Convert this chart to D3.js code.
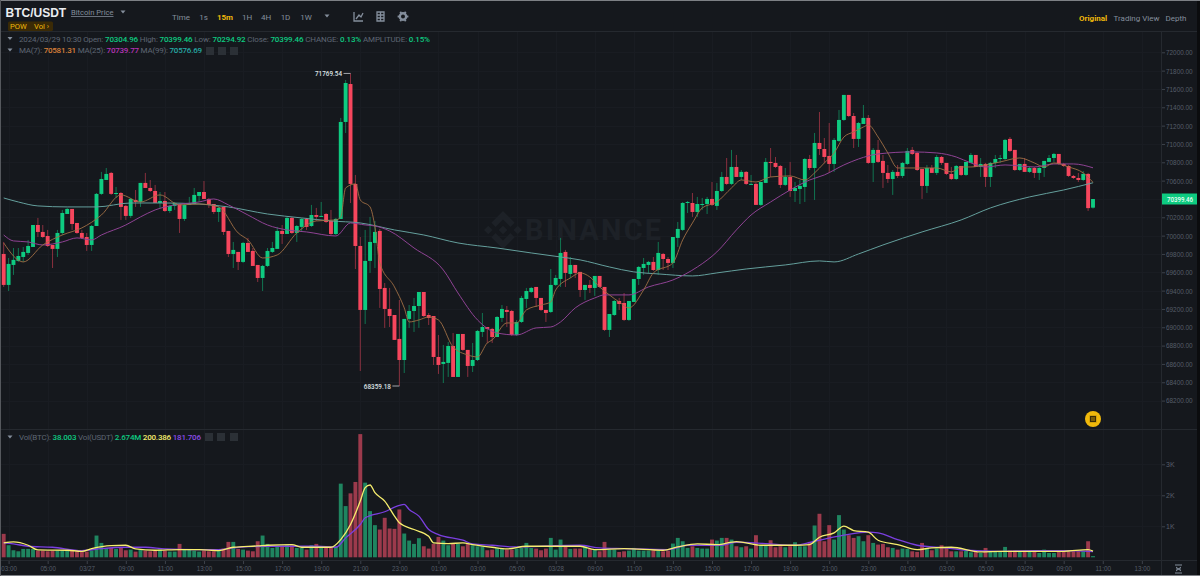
<!DOCTYPE html>
<html>
<head>
<meta charset="utf-8">
<script src="https://cdn.jsdelivr.net/npm/d3@7"></script>
<style>
  html, body { margin: 0; padding: 0; background: #0b0c0e; }
  svg { display: block; font-family: Roboto, "Noto Sans", sans-serif; }
  .axis text { fill: #565d69; font-size: 7px; }
  .axis line { stroke: #3d424b; }
  .axis path { display: none; }
</style>
</head>
<body>
<div id="chart"></div>
<script>
const opens = [69800,69462,69680,69724,69767,69811,69876,70116,70040,69996,69898,69855,70029,70236,70291,70138,70029,69985,69898,70105,70455,70607,70684,70455,70465,70324,70215,70389,70367,70575,70520,70487,70356,70378,70269,70324,70345,70182,70335,70345,70433,70476,70400,70345,70258,70313,70051,69800,69822,69713,69920,69833,69680,69538,69669,69822,69855,70051,70018,70193,70029,70095,70182,70105,70225,70204,70236,70160,70018,70182,71240,71654,70564,69887,69189,69724,69920,70051,69429,69200,69134,68873,68643,69091,69178,69232,69385,69134,69123,68676,68600,68611,68796,68458,68927,68753,68578,68643,68949,69003,68982,68894,69102,69189,69178,68916,69058,69309,69385,69440,69320,69189,69167,69462,69527,69822,69582,69680,69604,69407,69462,69429,69560,69440,68971,69134,69287,69265,69080,69276,69527,69647,69680,69713,69625,69800,69745,69702,69975,70062,70356,70356,70258,70335,70345,70400,70324,70487,70640,70564,70749,70640,70695,70553,70564,70335,70575,70804,70793,70760,70553,70640,70487,70509,70531,70836,70738,71011,70945,70869,70782,71033,71262,71535,71305,71055,71218,71284,70793,70935,70815,70684,70618,70695,70651,70782,70935,70902,70727,70542,70738,70684,70858,70793,70673,70618,70760,70662,70793,70880,70749,70782,70640,70793,70836,70836,71055,70935,70716,70782,70695,70738,70684,70738,70804,70847,70891,70782,70760,70651,70629,70607,70673,70304.96];
const highs = [69931,69756,69865,69865,69876,69953,70116,70193,70116,70062,69898,70062,70280,70302,70291,70138,70062,70029,70116,70465,70695,70738,70695,70531,70476,70335,70411,70498,70575,70684,70607,70553,70476,70476,70335,70367,70345,70345,70422,70520,70476,70596,70411,70345,70324,70313,70051,69931,69822,69931,69975,69865,69680,69680,69865,69931,70095,70116,70204,70204,70116,70193,70193,70335,70302,70367,70247,70280,70193,71284,71698,71769.54,70662,69985,70062,70204,70160,70073,69483,69429,69134,69298,69091,69243,69320,69385,69385,69156,69123,68916,68807,68840,68938,68927,68927,68753,68829,68971,69156,69003,68993,69123,69243,69232,69189,69080,69342,69429,69440,69440,69320,69189,69636,69571,69975,69844,69767,69680,69604,69462,69516,69560,69560,69440,69145,69298,69320,69374,69287,69527,69669,69756,69724,69767,69931,69811,69767,69985,70149,70367,70378,70465,70422,70411,70422,70585,70575,70695,70847,70935,70880,70716,70705,70662,70575,70585,70847,70956,70858,70771,70738,70804,70585,70607,70847,70880,71120,71349,71065,71229,71065,71371,71535,71535,71338,71240,71425,71316,70956,71044,70880,70771,70716,70771,70804,70956,70967,70913,70727,70771,70771,70880,70869,70793,70749,70771,70760,70804,70902,70880,70847,70793,70804,70880,70880,71055,71076,70935,70782,70847,70749,70749,70749,70815,70880,70902,70891,70793,70771,70662,70684,70705,70684,70399.46];
const lows = [69440,69396,69571,69713,69713,69789,69876,69985,69975,69876,69647,69767,70007,70236,70062,70018,69964,69833,69833,70105,70444,70607,70444,70411,70171,70171,70193,70313,70313,70520,70476,70356,70302,70258,70247,70280,70029,70160,70335,70345,70367,70400,70302,70236,70149,70007,69767,69647,69625,69702,69822,69669,69494,69396,69658,69811,69855,69909,70018,70018,69931,70040,70062,70095,70160,70204,70138,70007,70007,70182,71120,70356,69636,68523,69036,69593,69647,69211,68993,69003,68862,68359.18,68501,68993,68949,68993,69112,69025,68589,68491,68392,68458,68458,68458,68742,68458,68512,68632,68894,68829,68829,68894,69058,69003,68905,68905,69047,69211,69374,69222,69178,69058,69156,69451,69440,69440,69538,69538,69331,69298,69374,69342,69429,68960,68894,69123,69189,69069,69069,69276,69462,69571,69593,69614,69571,69625,69625,69647,69876,70051,70247,70204,70204,70280,70236,70324,70280,70476,70553,70553,70640,70607,70553,70553,70335,70324,70575,70640,70738,70520,70542,70422,70367,70345,70367,70716,70389,70880,70793,70684,70695,71022,71251,71294,70956,70967,71218,70782,70585,70793,70520,70575,70444,70629,70629,70771,70880,70705,70400,70465,70684,70662,70771,70662,70607,70607,70651,70651,70793,70749,70640,70531,70531,70738,70793,70825,70913,70705,70705,70695,70684,70629,70607,70640,70804,70804,70771,70749,70640,70618,70585,70596,70269,70294.92];
const closes = [69462,69691,69735,69778,69822,69887,70116,70040,69985,69887,69855,70029,70247,70291,70127,70029,69975,69898,70105,70455,70618,70673,70455,70465,70313,70215,70400,70367,70575,70520,70487,70356,70378,70269,70324,70356,70182,70335,70345,70444,70476,70400,70335,70258,70302,70040,69800,69844,69713,69920,69822,69669,69538,69669,69833,69865,70051,70018,70193,70029,70105,70182,70095,70225,70204,70215,70149,70018,70182,71240,71665,70564,69887,69189,69724,69931,70040,69418,69200,69123,68862,68643,69091,69178,69232,69385,69123,69102,68676,68589,68622,68796,68458,68927,68753,68578,68643,68960,69003,68982,68894,69112,69200,69167,68916,69058,69320,69396,69429,69320,69189,69156,69462,69538,69811,69593,69680,69593,69407,69462,69429,69560,69440,68971,69145,69287,69254,69080,69287,69527,69658,69691,69713,69625,69811,69745,69702,69985,70073,70356,70367,70258,70345,70345,70400,70335,70487,70640,70564,70749,70640,70695,70564,70564,70335,70585,70804,70793,70749,70553,70640,70487,70520,70542,70836,70738,71011,70945,70858,70782,71044,71262,71535,71305,71055,71229,71284,70793,70935,70804,70684,70618,70695,70651,70793,70924,70891,70716,70542,70738,70684,70858,70793,70673,70618,70760,70662,70804,70880,70749,70782,70640,70793,70836,70847,71044,70924,70716,70782,70695,70738,70684,70738,70815,70847,70891,70782,70760,70651,70629,70607,70673,70300,70399.46];
const volumes = [756,389,227,194,270,270,270,216,216,194,216,216,216,216,216,194,184,184,216,702,464,302,302,270,324,227,248,184,248,216,194,216,248,216,184,184,432,248,248,216,184,216,194,194,216,281,497,497,270,248,216,194,518,702,432,302,356,356,389,389,302,302,248,389,432,324,324,324,356,2376,1652,2063,2430,3974,2408,1490,1037,896,1274,929,918,1544,767,540,432,616,356,281,432,659,540,389,432,432,356,432,389,356,346,227,248,302,281,248,248,281,302,464,302,281,227,281,626,248,572,356,270,281,281,356,270,248,194,497,248,248,173,194,216,302,216,216,216,227,216,194,216,443,626,518,302,356,302,281,281,572,540,626,626,572,356,324,356,281,713,389,389,551,324,356,324,356,486,356,356,497,1026,1404,518,1037,572,1361,896,713,626,680,518,713,464,410,432,324,302,248,281,270,194,173,464,281,227,281,389,324,194,194,194,216,162,173,140,302,194,173,173,335,216,216,194,216,194,173,140,248,140,140,173,194,173,194,194,194,518,38.003];

// moving averages at these candle numbers
const ma7Index = [0,4,8,12,16,20,24,28,32,36,40,44,48,50,53,56,60,64,68,69,70,72,73,75,76,77,80,82,83,85,87,89,92,95,97,99,100,103,105,107,110,112,113,116,118,120,122,124,126,128,131,133,137,139,141,143,146,149,151,154,157,161,164,166,168,170,172,174,176,177,179,181,183,185,188,191,194,196,198,201,204,208,211,213,215,218,221,223];
const ma7Values = [69920,69713,69898,70007,70084,70225,70444,70367,70444,70335,70345,70313,70029,69953,69756,69789,70029,70160,70171,70204,70520,70564,70389,70313,70095,69702,69440,69211,69058,69080,69112,69080,68785,68698,68676,68829,68862,69047,69047,69189,69243,69276,69407,69538,69593,69549,69440,69353,69276,69211,69407,69593,69702,69953,70138,70302,70367,70520,70607,70585,70640,70651,70607,70684,70793,70902,71076,71131,71185,71207,71076,70902,70738,70738,70738,70738,70695,70749,70749,70771,70804,70847,70793,70749,70793,70749,70684,70581.31];
const ma25Index = [0,2,5,8,12,15,18,20,25,28,31,35,40,43,46,50,54,58,62,68,71,74,76,79,84,90,93,97,101,105,109,112,114,117,121,123,128,132,137,142,146,150,153,157,161,165,168,172,175,179,186,191,195,198,201,205,211,215,219,223];
const ma25Values = [70007,69942,69931,69898,69931,69975,69953,70007,70116,70204,70280,70335,70367,70400,70335,70225,70116,70062,70040,69996,70138,70116,70105,70051,69865,69625,69374,69080,68938,68916,68993,69003,69058,69211,69320,69353,69353,69440,69516,69658,69822,70062,70225,70367,70498,70607,70662,70771,70836,70891,70913,70902,70858,70793,70749,70771,70749,70782,70782,70739.77];
const ma99Index = [0,3,7,13,19,26,33,40,46,54,61,67,73,80,86,93,101,108,114,118,124,129,134,141,146,152,160,167,170,175,180,188,196,202,210,217,223];
const ma99Values = [70411,70367,70324,70313,70313,70356,70356,70345,70313,70236,70193,70160,70138,70062,70007,69920,69865,69811,69767,69735,69658,69604,69582,69560,69593,69636,69680,69724,69713,69800,69898,70040,70171,70302,70422,70498,70576.69];

const volMa5Index = [0,2,5,7,13,16,18,22,25,27,31,36,40,44,47,52,54,59,61,67,69,71,73,74,75,76,78,80,81,84,87,88,91,94,96,100,103,107,113,118,121,127,135,138,142,146,150,155,162,165,167,170,172,174,177,179,183,187,190,194,200,204,211,217,222,223];
const volMa5Values = [464,497,389,238,227,194,281,378,389,270,227,248,248,216,324,367,389,410,324,324,572,1058,1814,2246,2333,2084,1814,1328,1112,896,680,464,443,464,410,324,270,356,356,356,248,281,227,335,432,410,508,389,389,410,648,788,1004,864,810,551,410,248,302,324,173,194,194,194,248,200.386];
const volMa10Index = [0,2,5,10,16,20,25,29,33,39,44,47,54,59,64,68,70,73,74,78,81,82,83,85,87,89,94,96,100,104,108,113,118,122,127,136,140,147,150,156,162,166,172,177,179,183,187,193,197,204,211,217,223];
const volMa10Values = [464,432,356,324,216,281,324,324,270,248,248,302,356,356,356,324,626,1058,1274,1469,1674,1706,1544,1328,896,734,551,432,389,335,346,378,389,302,281,248,389,389,486,443,389,518,713,810,788,572,389,302,227,194,216,216,181.706];

const priceTicks = [72000,71800,71600,71400,71200,71000,70800,70600,70400,70200,70000,69800,69600,69400,69200,69000,68800,68600,68400,68200];
const volumeTicks = [1000,2000,3000];
const timeLabels = ['03:00','05:00','03/27','09:00','11:00','13:00','15:00','17:00','19:00','21:00','23:00','01:00','03:00','05:00','03/28','09:00','11:00','13:00','15:00','17:00','19:00','21:00','23:00','01:00','03:00','05:00','03/29','09:00','11:00','13:00'];
const timeTicks = timeLabels.map((label, i) => 1 + i * 8);
const intervals = ['Time','1s','15m','1H','4H','1D','1W'];

const width = 1200;
const height = 576;
const axisX = 1162;
const bg = '#15181d';
const grid = '#191c22';
const border = '#25292f';
const green = '#0ecb81';
const red = '#f6465d';
const gray = '#5e6673';

const svg = d3.select('#chart').append('svg').attr('width', width).attr('height', height);

const x = d3.scaleLinear().domain([0, 223]).range([3.7, 1093]);
const y = d3.scaleLinear().domain([68200, 72000]).range([400.6, 52.3]);
const yVol = d3.scaleLinear().domain([0, 3000]).range([557.3, 464.3]);

svg.append('rect').attr('x', 1).attr('y', 1).attr('width', 1196).attr('height', 574).attr('fill', bg);
svg.append('rect').attr('width', width).attr('height', 1).attr('fill', '#7d8085');
svg.append('rect').attr('y', 575).attr('width', width).attr('height', 1).attr('fill', '#7d8085');
svg.append('rect').attr('width', 1).attr('height', height).attr('fill', '#55585d');

drawGrid();
drawWatermark();
drawAxes();
drawCandles();
drawMovingAverages();
drawVolume();
drawMarkers();
drawHeader();
drawLegends();

function drawGrid() {
  const g = svg.append('g').attr('stroke', grid).attr('stroke-width', 1);
  timeTicks.forEach(t => {
    g.append('line').attr('x1', Math.round(x(t)) + 0.5).attr('x2', Math.round(x(t)) + 0.5).attr('y1', 32).attr('y2', 561);
  });
  priceTicks.forEach(p => {
    g.append('line').attr('x1', 1).attr('x2', axisX).attr('y1', Math.round(y(p)) + 0.5).attr('y2', Math.round(y(p)) + 0.5);
  });
  volumeTicks.forEach(v => {
    g.append('line').attr('x1', 1).attr('x2', axisX).attr('y1', Math.round(yVol(v)) + 0.5).attr('y2', Math.round(yVol(v)) + 0.5);
  });

  const lines = svg.append('g').attr('stroke', border).attr('stroke-width', 1);
  lines.append('line').attr('x1', 1).attr('x2', 1197).attr('y1', 31.5).attr('y2', 31.5);
  lines.append('line').attr('x1', 1).attr('x2', 1197).attr('y1', 429.5).attr('y2', 429.5);
  lines.append('line').attr('x1', 1).attr('x2', 1197).attr('y1', 560.5).attr('y2', 560.5);
  lines.append('line').attr('x1', axisX - 0.5).attr('x2', axisX - 0.5).attr('y1', 32).attr('y2', 575);
}

function drawWatermark() {
  const g = svg.append('g').attr('fill', '#1d2127');
  g.append('text').attr('x', 525).attr('y', 240).attr('font-size', 29).attr('font-weight', 700)
    .attr('letter-spacing', 2.2).text('BINANCE');
  g.append('path').attr('transform', 'translate(484,211) scale(0.3)')
    .attr('d', 'M38.73 53.2l24.59-24.58 24.6 24.6 14.3-14.31L63.32 0 24.43 38.9zM0 63.31l14.3-14.31 14.31 14.31-14.31 14.3zM38.73 73.41l24.59 24.59 24.6-24.6 14.31 14.29-.01.01-38.9 38.91-38.9-38.88-.02-.02zM97.99 63.32l14.31-14.31 14.3 14.31-14.3 14.3zM77.83 63.3h.01L63.32 48.78 48.82 63.28l14.5 14.55 14.52-14.52z');
}

function drawAxes() {
  const priceAxis = svg.append('g').attr('class', 'axis').attr('transform', `translate(${axisX},0)`)
    .call(d3.axisRight(y).tickValues(priceTicks).tickSize(3).tickPadding(1).tickFormat(d3.format('.2f')));
  priceAxis.selectAll('text').attr('dy', '0.34em')
    .attr('textLength', 26.6).attr('lengthAdjust', 'spacingAndGlyphs');

  svg.append('g').attr('class', 'axis').attr('transform', `translate(${axisX},0)`)
    .call(d3.axisRight(yVol).tickValues(volumeTicks).tickSize(3).tickPadding(1).tickFormat(d => (d / 1000) + 'K'));

  svg.append('g').attr('class', 'axis').attr('transform', 'translate(0,561)')
    .call(d3.axisBottom(x).tickValues(timeTicks).tickSize(3).tickPadding(2).tickFormat((d, i) => timeLabels[i]))
    .selectAll('text').attr('textLength', 15.5).attr('lengthAdjust', 'spacingAndGlyphs');

  // autoscale icon in the corner
  const icon = svg.append('g').attr('stroke', '#848e9c').attr('stroke-width', 1).attr('fill', 'none');
  icon.append('path').attr('d', 'M1175,565H1182M1175,573H1182M1176,569H1181M1176,567L1178.5,569L1176,571M1181,567L1178.5,569L1181,571');
}

function drawCandles() {
  const candles = svg.append('g').selectAll('g').data(d3.range(opens.length)).join('g')
    .attr('fill', i => closes[i] >= opens[i] ? green : red)
    .attr('stroke', i => closes[i] >= opens[i] ? green : red);

  candles.append('line')
    .attr('x1', i => x(i)).attr('x2', i => x(i))
    .attr('y1', i => y(highs[i])).attr('y2', i => y(lows[i]))
    .attr('stroke-width', 0.8).attr('stroke-opacity', 0.65);

  candles.append('rect')
    .attr('x', i => x(i) - 1.95)
    .attr('width', 3.9)
    .attr('y', i => y(Math.max(opens[i], closes[i])))
    .attr('height', i => Math.max(1, Math.abs(y(opens[i]) - y(closes[i]))))
    .attr('stroke', 'none');
}

function drawMovingAverages() {
  const line = (index, values, scale) => d3.line()
    .x((d, i) => x(index[i]))
    .y(d => scale(d))
    .curve(d3.curveMonotoneX)(values);

  svg.append('path').attr('d', line(ma99Index, ma99Values, y)).attr('fill', 'none').attr('stroke', '#649f9c').attr('stroke-width', 1);
  svg.append('path').attr('d', line(ma25Index, ma25Values, y)).attr('fill', 'none').attr('stroke', '#8e4293').attr('stroke-width', 1);
  svg.append('path').attr('d', line(ma7Index, ma7Values, y)).attr('fill', 'none').attr('stroke', '#a06f45').attr('stroke-width', 0.9);
}

function drawVolume() {
  svg.append('g').selectAll('rect').data(volumes).join('rect')
    .attr('x', (d, i) => x(i) - 1.95)
    .attr('width', 3.9)
    .attr('y', d => yVol(d))
    .attr('height', d => yVol(0) - yVol(d))
    .attr('fill', (d, i) => closes[i] >= opens[i] ? '#1f8560' : '#9c3a4c');

  const line = (index, values) => d3.line()
    .x((d, i) => x(index[i]))
    .y(d => yVol(d))
    .curve(d3.curveMonotoneX)(values);

  svg.append('path').attr('d', line(volMa10Index, volMa10Values)).attr('fill', 'none').attr('stroke', '#7b3fe0').attr('stroke-width', 1.3);
  svg.append('path').attr('d', line(volMa5Index, volMa5Values)).attr('fill', 'none').attr('stroke', '#f7ee6e').attr('stroke-width', 1.3);
}

function drawMarkers() {
  // highest and lowest price labels
  const hi = d3.range(highs.length).reduce((a, b) => highs[b] > highs[a] ? b : a, 0);
  const lo = d3.range(lows.length).reduce((a, b) => lows[b] < lows[a] ? b : a, 0);
  [[hi, highs[hi]], [lo, lows[lo]]].forEach(([i, p]) => {
    svg.append('line').attr('x1', x(i) - 7).attr('x2', x(i)).attr('y1', y(p)).attr('y2', y(p)).attr('stroke', '#c8ccd2').attr('stroke-width', 0.8);
    svg.append('text').attr('x', x(i) - 8.5).attr('y', y(p) + 2.5).attr('text-anchor', 'end')
      .attr('font-size', 6.8).attr('font-weight', 500).attr('fill', '#dfe2e5')
      .attr('textLength', 27).attr('lengthAdjust', 'spacingAndGlyphs').text(p.toFixed(2));
  });

  // last price tag
  const last = closes[closes.length - 1];
  svg.append('rect').attr('x', axisX).attr('y', y(last) - 5.5).attr('width', 35).attr('height', 11).attr('fill', green);
  svg.append('text').attr('x', axisX + 18).attr('y', y(last) + 2.6).attr('text-anchor', 'middle')
    .attr('font-size', 7).attr('font-weight', 500).attr('fill', '#eafff6')
    .attr('textLength', 26).attr('lengthAdjust', 'spacingAndGlyphs').text(last.toFixed(2));

  // yellow event badge
  svg.append('circle').attr('cx', 1093).attr('cy', 419).attr('r', 8).attr('fill', '#f0b90b');
  svg.append('path').attr('d', 'M1089.5,415.5h7v7h-7zM1091,418h4M1091,420h4').attr('fill', '#3a2c05').attr('stroke', '#f0b90b').attr('stroke-width', 0.7);
}

function drawHeader() {
  svg.append('text').attr('x', 5.5).attr('y', 16.5).attr('font-size', 12).attr('font-weight', 700)
    .attr('fill', '#eaecef').attr('font-family', '"Liberation Sans", Arial, sans-serif').text('BTC/USDT');
  svg.append('text').attr('x', 71).attr('y', 15).attr('font-size', 7.6).attr('fill', '#848e9c')
    .attr('text-decoration', 'underline').text('Bitcoin Price');
  caret(123, 12, '#848e9c');

  svg.append('rect').attr('x', 8).attr('y', 21.5).attr('width', 45).attr('height', 9.5).attr('rx', 1.5).attr('fill', '#3a2a06');
  svg.append('text').attr('x', 10).attr('y', 29).attr('font-size', 7.6).attr('fill', '#f0b90b').text('POW');
  svg.append('text').attr('x', 34).attr('y', 29).attr('font-size', 7.6).attr('fill', '#f0b90b').text('Vol ›');

  const tabX = [181, 203.5, 225, 247, 266, 285.5, 306];
  intervals.forEach((label, i) => {
    svg.append('text').attr('x', tabX[i]).attr('y', 19.5).attr('text-anchor', 'middle').attr('font-size', 8)
      .attr('font-weight', label === '15m' ? 700 : 400)
      .attr('fill', label === '15m' ? '#f0b90b' : '#848e9c').text(label);
  });
  caret(327, 16, '#848e9c');

  const icons = svg.append('g').attr('fill', 'none').attr('stroke', '#848e9c').attr('stroke-width', 1.3);
  icons.append('path').attr('d', 'M354,12V21H363M356,19L359,15L361,17L363,13');
  icons.append('path').attr('d', 'M377,12H384V21H377ZM377,15H384M377,18H384M380.5,12V21');
  svg.append('circle').attr('cx', 403).attr('cy', 16.5).attr('r', 3.2).attr('fill', 'none').attr('stroke', '#848e9c').attr('stroke-width', 2.4);
  d3.range(6).forEach(k => {
    const a = k * Math.PI / 3;
    svg.append('line').attr('x1', 403 + 3.6 * Math.cos(a)).attr('y1', 16.5 + 3.6 * Math.sin(a))
      .attr('x2', 403 + 5.4 * Math.cos(a)).attr('y2', 16.5 + 5.4 * Math.sin(a))
      .attr('stroke', '#848e9c').attr('stroke-width', 1.8);
  });

  svg.append('text').attr('x', 1079).attr('y', 21).attr('font-size', 8).attr('font-weight', 700).attr('fill', '#f0b90b').text('Original');
  svg.append('text').attr('x', 1113.5).attr('y', 21).attr('font-size', 8).attr('fill', '#848e9c').text('Trading View');
  svg.append('text').attr('x', 1165.5).attr('y', 21).attr('font-size', 8).attr('fill', '#848e9c').text('Depth');
}

function drawLegends() {
  const priceRow = [
    ['2024/03/29 10:30 Open: ', gray], ['70304.96', green], [' High: ', gray], ['70399.46', green],
    [' Low: ', gray], ['70294.92', green], [' Close: ', gray], ['70399.46', green],
    [' CHANGE: ', gray], ['0.13%', green], [' AMPLITUDE: ', gray], ['0.15%', green]
  ];
  const maRow = [
    ['MA(7): ', gray], ['70581.31', '#d9803a'], [' MA(25): ', gray], ['70739.77', '#b533b5'],
    [' MA(99): ', gray], ['70576.69', '#25aaa4']
  ];
  const volRow = [
    ['Vol(BTC): ', gray], ['38.003', green], [' Vol(USDT) ', gray], ['2.674M', green],
    [' ', gray], ['200.386', '#f7ee6e'], [' ', gray], ['181.706', '#8a4be8']
  ];
  legendRow(priceRow, 19, 41.5, 411);
  legendRow(maRow, 19, 53, 183);
  legendRow(volRow, 19, 440, 182);

  caret(10, 38.5, '#848e9c');
  caret(10, 50, '#848e9c');
  caret(10, 437, '#848e9c');

  [[206, 47], [218, 47], [230, 47], [205, 433], [217, 433], [230, 433]].forEach(([bx, by]) => {
    svg.append('rect').attr('x', bx).attr('y', by).attr('width', 8).attr('height', 8).attr('fill', '#2b3036');
  });
}

function legendRow(parts, px, py, textLength) {
  const text = svg.append('text').attr('x', px).attr('y', py).attr('font-size', 8)
    .attr('textLength', textLength).attr('xml:space', 'preserve').style('white-space', 'pre');
  parts.forEach(([content, colour]) => {
    text.append('tspan').attr('fill', colour).attr('font-weight', colour === gray ? 400 : 500).text(content);
  });
}

function caret(cx, cy, colour) {
  svg.append('path').attr('d', `M${cx - 2.5},${cy - 1.5}H${cx + 2.5}L${cx},${cy + 1.5}Z`).attr('fill', colour);
}
</script>
</body>
</html>
